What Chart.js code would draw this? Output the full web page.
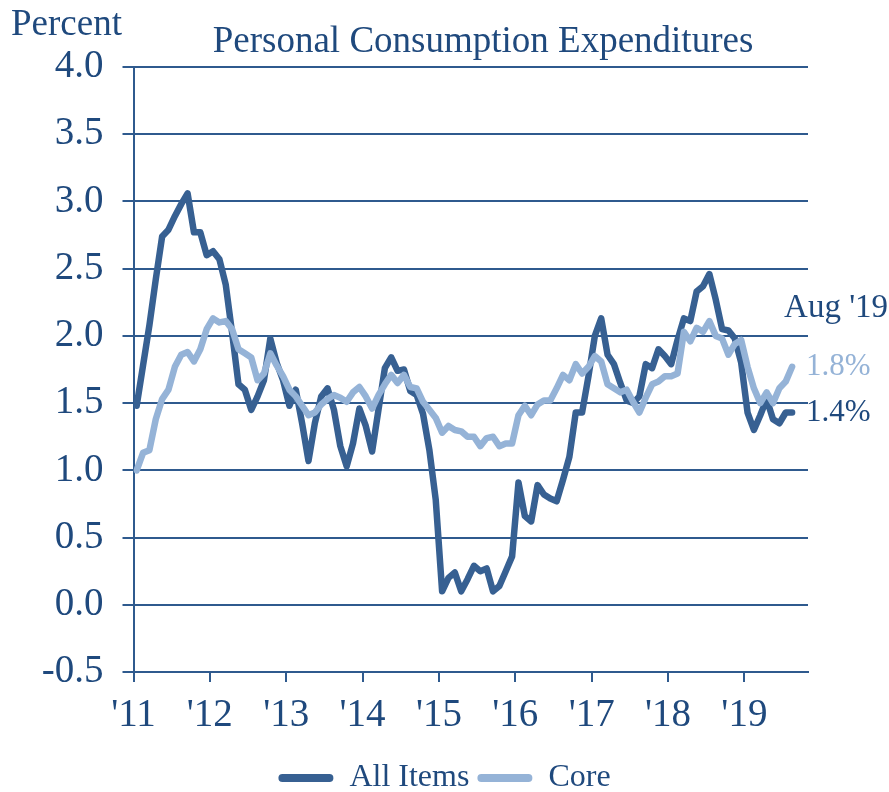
<!DOCTYPE html>
<html>
<head>
<meta charset="utf-8">
<style>
  html, body { margin: 0; padding: 0; background: #ffffff; }
</style>
</head>
<body>
<canvas id="pceChart" width="889" height="792"></canvas>

<script src="https://cdn.jsdelivr.net/npm/chart.js"></script>

<script>
  // year labels on the x axis (one tick at each January)
  const years = ["'11", "'12", "'13", "'14", "'15", "'16", "'17", "'18", "'19"];

  // monthly y/y % change, Jan 2011 - Aug 2019
  const allItems = [
    1.48, 1.78, 2.08, 2.42, 2.74, 2.79, 2.89, 2.98, 3.06, 2.77, 2.77, 2.60,
    2.63, 2.57, 2.38, 2.02, 1.64, 1.60, 1.45, 1.55, 1.67, 1.98, 1.80, 1.67,
    1.48, 1.60, 1.35, 1.07, 1.35, 1.55, 1.61, 1.45, 1.18, 1.03, 1.20, 1.46,
    1.33, 1.14, 1.45, 1.76, 1.84, 1.74, 1.75, 1.59, 1.56, 1.42, 1.15, 0.78,
    0.10, 0.20, 0.24, 0.10, 0.19, 0.29, 0.25, 0.27, 0.10, 0.14, 0.25, 0.36,
    0.91, 0.66, 0.62, 0.89, 0.82, 0.79, 0.77, 0.93, 1.10, 1.43, 1.43, 1.70,
    2.00, 2.13, 1.86, 1.79, 1.65, 1.52, 1.50, 1.55, 1.79, 1.76, 1.90, 1.85,
    1.79, 1.97, 2.13, 2.11, 2.33, 2.37, 2.46, 2.27, 2.05, 2.04, 1.98, 1.80,
    1.43, 1.30, 1.41, 1.53, 1.38, 1.35, 1.43, 1.43
  ];
  const core = [
    1.00, 1.13, 1.15, 1.38, 1.53, 1.60, 1.77, 1.86, 1.88, 1.81, 1.90, 2.05,
    2.13, 2.10, 2.11, 2.05, 1.90, 1.87, 1.84, 1.67, 1.72, 1.87, 1.78, 1.70,
    1.60, 1.55, 1.48, 1.41, 1.43, 1.49, 1.53, 1.56, 1.54, 1.51, 1.58, 1.62,
    1.55, 1.46, 1.56, 1.64, 1.71, 1.65, 1.71, 1.62, 1.61, 1.51, 1.45, 1.39,
    1.28, 1.33, 1.30, 1.29, 1.25, 1.25, 1.18, 1.24, 1.25, 1.18, 1.20, 1.20,
    1.41, 1.48, 1.41, 1.49, 1.52, 1.52, 1.61, 1.71, 1.67, 1.79, 1.72, 1.77,
    1.85, 1.81, 1.64, 1.61, 1.58, 1.60, 1.51, 1.43, 1.54, 1.64, 1.66, 1.70,
    1.70, 1.72, 2.03, 1.96, 2.06, 2.03, 2.11, 2.00, 1.98, 1.86, 1.94, 1.97,
    1.77, 1.61, 1.50, 1.58, 1.50, 1.61, 1.66, 1.77
  ];

  const yMin = -0.5, yMax = 4.0, yStep = 0.5;
  const lastLabel = "Aug '19";

  const navy = '#1F497D';
  const darkBlue = '#376092';
  const lightBlue = '#95B3D7';
  const gridColor = '#2F5A8E';
  const serif = '"Liberation Serif", "Times New Roman", serif';

  // texts that sit outside the plot: unit label, title, end-of-line values
  const annotations = {
    id: 'annotations',
    afterDraw(chart) {
      const ctx = chart.ctx;
      const y = chart.scales.y;
      const x = chart.scales.x;
      const n = allItems.length - 1;
      ctx.save();
      ctx.textBaseline = 'alphabetic';
      ctx.fillStyle = navy;
      ctx.font = '37px ' + serif;
      ctx.textAlign = 'left';
      ctx.fillText('Percent', 11, 35);
      ctx.textAlign = 'center';
      ctx.fillText('Personal Consumption Expenditures', 483, 52);

      ctx.textAlign = 'left';
      ctx.textBaseline = 'middle';
      ctx.font = '33px ' + serif;
      ctx.fillText(lastLabel, x.getPixelForValue(n) - 8, 308);
      ctx.font = '31px ' + serif;
      ctx.fillStyle = lightBlue;
      ctx.fillText(core[n].toFixed(1) + '%', chart.chartArea.right - 2, y.getPixelForValue(core[n]));
      ctx.fillStyle = navy;
      ctx.fillText(allItems[n].toFixed(1) + '%', chart.chartArea.right - 2, y.getPixelForValue(allItems[n]));
      ctx.restore();
    }
  };

  const ctx = document.getElementById('pceChart').getContext('2d');
  new Chart(ctx, {
    type: 'line',
    data: {
      datasets: [{
        label: 'All Items',
        data: allItems.map((v, i) => ({ x: i, y: v })),
        borderColor: darkBlue,
        backgroundColor: darkBlue,
        borderWidth: 6.5,
        pointRadius: 0,
        tension: 0,
        borderJoinStyle: 'round',
        borderCapStyle: 'round',
        order: 1
      }, {
        label: 'Core',
        data: core.map((v, i) => ({ x: i, y: v })),
        borderColor: lightBlue,
        backgroundColor: lightBlue,
        borderWidth: 6.5,
        pointRadius: 0,
        tension: 0,
        borderJoinStyle: 'round',
        borderCapStyle: 'round',
        order: 0
      }]
    },
    options: {
      responsive: false,
      animation: false,
      layout: { padding: { top: 67, right: 0, left: 0, bottom: -12 } },
      plugins: {
        title: { display: false },
        tooltip: { enabled: false },
        legend: {
          position: 'bottom',
          labels: {
            color: navy,
            font: { family: serif, size: 32 },
            boxWidth: 55,
            boxHeight: 8,
            padding: 8,
            useBorderRadius: true,
            borderRadius: 4,
            generateLabels: chart => chart.data.datasets.map((ds, i) => ({
              text: ds.label,
              fillStyle: ds.borderColor,
              strokeStyle: ds.borderColor,
              lineWidth: 0,
              fontColor: navy,
              borderRadius: 4,
              datasetIndex: i
            }))
          }
        }
      },
      scales: {
        x: {
          type: 'linear',
          min: -0.5,
          max: 105.5,
          afterFit: s => { s.height = 82; },
          afterBuildTicks: s => { s.ticks = years.map((_, k) => ({ value: -0.5 + 12 * k })); },
          ticks: {
            autoSkip: false,
            maxRotation: 0,
            padding: 10,
            color: navy,
            font: { family: serif, size: 39 },
            callback: (v, idx) => years[idx]
          },
          grid: { drawOnChartArea: false, tickLength: 10, color: gridColor, lineWidth: 2 },
          border: { display: true, color: gridColor, width: 2 }
        },
        y: {
          min: yMin,
          max: yMax,
          afterFit: s => { s.width = 133.5; },
          ticks: {
            stepSize: yStep,
            padding: 19,
            color: navy,
            font: { family: serif, size: 39 },
            callback: v => v.toFixed(1)
          },
          grid: { tickLength: 11, color: gridColor, lineWidth: 2 },
          border: { display: true, color: gridColor, width: 2 }
        },
        // empty right-hand axis: keeps room for the end labels
        yRight: {
          axis: 'y',
          position: 'right',
          afterFit: s => { s.width = 81; },
          ticks: { display: false },
          grid: { display: false },
          border: { display: false }
        }
      }
    },
    plugins: [annotations]
  });
</script>
</body>
</html>
